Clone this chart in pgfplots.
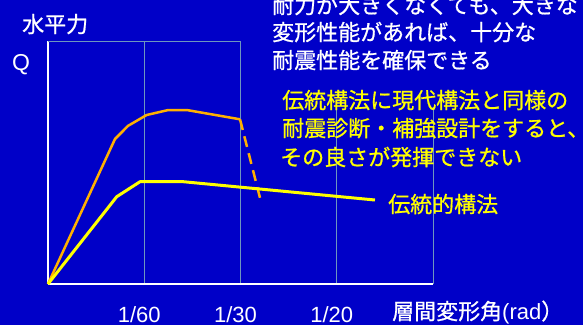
\documentclass[border=0pt]{standalone}
\usepackage{pgfplots}
\pgfplotsset{compat=1.18}
\usepackage{fontspec}
\setmainfont{Liberation Sans}
\newfontfamily\jp{Noto Sans CJK JP}[FakeBold=0.8]
\definecolor{bg}{RGB}{0,0,200}
\definecolor{gridc}{RGB}{110,150,190}
\definecolor{orng}{RGB}{255,176,0}
\definecolor{ylw}{RGB}{255,255,0}
\newcommand{\jfont}{\jp\fontsize{22}{26}\selectfont}
\begin{document}
\begin{tikzpicture}[x=1pt,y=1pt]
\fill[bg] (0,0) rectangle (583,325);
\useasboundingbox (0,0) rectangle (583,325);
\begin{axis}[
  at={(48pt,41pt)}, anchor=south west, scale only axis,
  width=385pt, height=243pt,
  xmin=0, xmax=4, ymin=0, ymax=243,
  axis x line=bottom, axis y line=left,
  axis line style={white, line width=2.5pt, -},
  xtick={1,2,3,4}, xticklabels={1/60,1/30,1/20,{}},
  ytick=\empty, major tick length=0pt,
  xmajorgrids, grid style={gridc, line width=1pt},
  xticklabel style={white, font=\fontsize{22}{22}\selectfont, anchor=base, yshift=-38.5pt, xshift=-5pt, inner sep=0pt},
  clip=false,
]
\draw[gridc, line width=1pt] (axis cs:0,243) -- (axis cs:2,243);
\addplot[orng, line width=2.5pt, line join=round] coordinates {(0,0) (0.696,145) (0.834,158.3) (1.025,169) (1.25,174) (1.441,174) (1.995,164.7)};
\addplot[orng, line width=2.5pt, dash pattern=on 11pt off 6.5pt] coordinates {(1.995,164.7) (2.203,86)};
\addplot[ylw, line width=3pt, line join=round] coordinates {(0,0) (0.714,87.3) (0.956,102.3) (1.406,102.3) (3.397,84)};
\end{axis}
\fill[bg] (242,218) rectangle (583,325);
\begin{scope}[every node/.style={inner sep=0pt, anchor=base west}]
\node[white] at (272,311.6) {\jfont 耐力が大きくなくても、大きな};
\node[white] at (272,284.6) {\jfont 変形性能があれば、十分な};
\node[white] at (272,256.6) {\jfont 耐震性能を確保できる};
\node[ylw] at (282,216.6) {\jfont 伝統構法に現代構法と同様の};
\node[ylw] at (282,188.6) {\jfont 耐震診断・補強設計をすると、};
\node[ylw] at (280,159.6) {\jfont その良さが発揮できない};
\node[ylw] at (388,112.6) {\jfont 伝統的構法};
\node[white] at (22,292.6) {\jfont 水平力};
\node[white] at (12,255) {\fontsize{23}{23}\selectfont Q};
\node[white] at (392,5.6) {\jfont 層間変形角\normalfont\fontsize{22}{22}\selectfont(rad\jfont ）};
\end{scope}
\end{tikzpicture}
\end{document}
